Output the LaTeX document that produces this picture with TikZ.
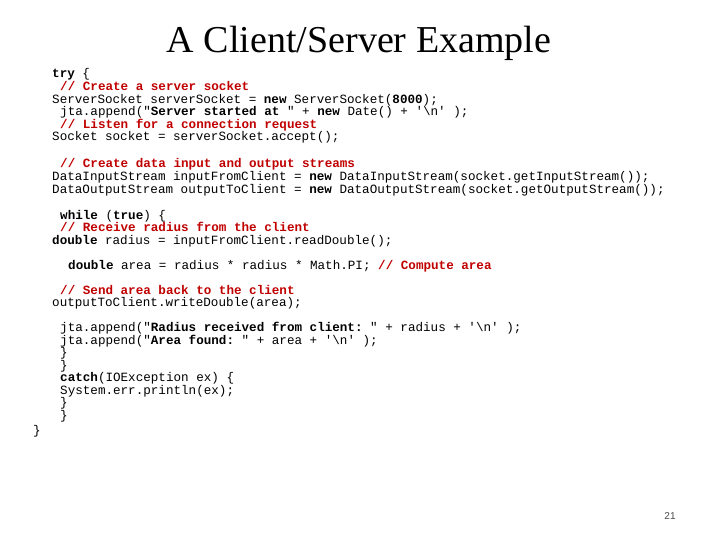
\documentclass[tikz,border=0pt]{standalone}
\usepackage{fontspec}
\setmainfont{Liberation Serif}
\setmonofont{Liberation Mono}
\newfontfamily\pagefont{Liberation Sans}
\definecolor{cred}{RGB}{192,0,0}
\newcommand{\cm}[1]{\textcolor{cred}{\bfseries #1}}
\newcommand{\kw}[1]{\textbf{#1}}
\newcommand{\bs}{\textbackslash}
\begin{document}
\begin{tikzpicture}[x=1pt,y=-1pt,
  code/.style={anchor=base west,inner sep=0,font=\ttfamily\fontsize{12.6}{12.6}\selectfont}]
\useasboundingbox (0,0) rectangle (720,540);
\node[font=\fontsize{38}{38}\selectfont,anchor=base] (title) at (359,53) {A Client/Server Example};
\node[code] (l1) at (52,78) {\kw{try} \{};
\node[code] (l2) at (60,91) {\cm{// Create a server socket}};
\node[code] (l3) at (52,104) {ServerSocket serverSocket = \kw{new} ServerSocket(\kw{8000});};
\node[code] (l4) at (60,116) {jta.append("\kw{Server started at }" + \kw{new} Date() + '\bs n' );};
\node[code] (l5) at (60,129) {\cm{// Listen for a connection request}};
\node[code] (l6) at (52,141) {Socket socket = serverSocket.accept();};
\node[code] (l7) at (60,168) {\cm{// Create data input and output streams}};
\node[code] (l8) at (52,181) {DataInputStream inputFromClient = \kw{new} DataInputStream(socket.getInputStream());};
\node[code] (l9) at (52,194) {DataOutputStream outputToClient = \kw{new} DataOutputStream(socket.getOutputStream());};
\node[code] (l10) at (60,219) {\kw{while} (\kw{true}) \{};
\node[code] (l11) at (60,232) {\cm{// Receive radius from the client}};
\node[code] (l12) at (52,244) {\kw{double} radius = inputFromClient.readDouble();};
\node[code] (l13) at (68,269) {\kw{double} area = radius * radius * Math.PI; \cm{// Compute area}};
\node[code] (l14) at (60,294) {\cm{// Send area back to the client}};
\node[code] (l15) at (52,306) {outputToClient.writeDouble(area);};
\node[code] (l16) at (60,331) {jta.append("\kw{Radius received from client: }" + radius + '\bs n' );};
\node[code] (l17) at (60,344) {jta.append("\kw{Area found: }" + area + '\bs n' );};
\node[code] (l18) at (60,356) {\}};
\node[code] (l19) at (60,369) {\}};
\node[code] (l20) at (60,381) {\kw{catch}(IOException ex) \{};
\node[code] (l21) at (60,394) {System.err.println(ex);};
\node[code] (l22) at (60,406) {\}};
\node[code] (l23) at (60,419) {\}};
\node[code] (l24) at (33,434) {\}};
\node[font=\pagefont\fontsize{10}{10}\selectfont,text=black!70,anchor=base] (pg) at (670,519) {21};
\end{tikzpicture}
\end{document}
